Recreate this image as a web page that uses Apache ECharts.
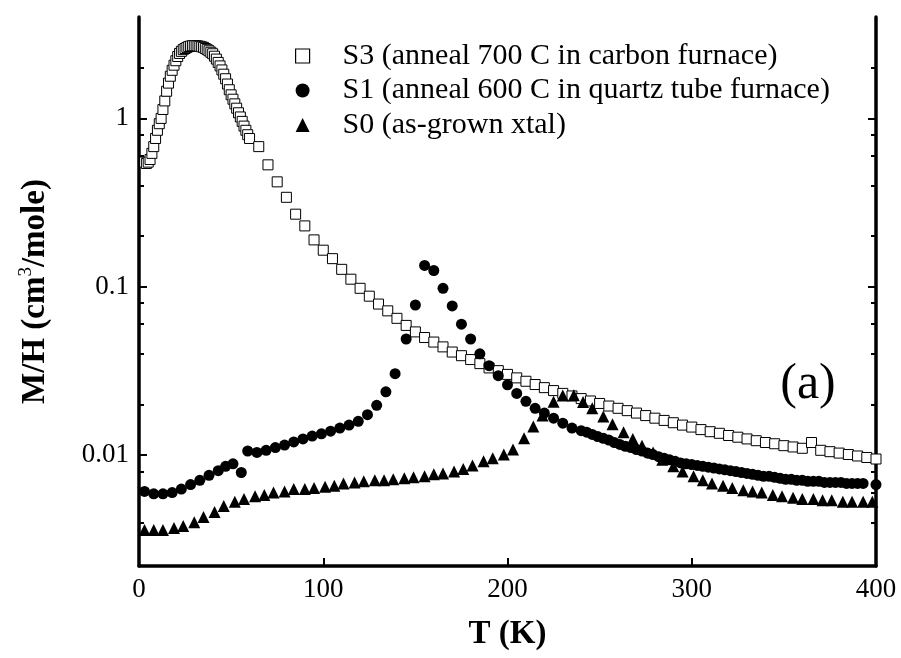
<!DOCTYPE html>
<html>
<head>
<meta charset="utf-8">
<script src="https://cdn.jsdelivr.net/npm/echarts@6/dist/echarts.min.js"></script>
<style>html,body{margin:0;padding:0;background:#fff}#c{width:901px;height:658px}</style>
</head>
<body>
<div id="c"></div>
<script>
// ---- data ----
const s3T = [3,4,5,6,7,8,9,10,11,12,13,14,15,16,17,18,19,20,21,22,23,24,25,26,27,28,29,30,31,32,33,34,35,36,37,38,39,40,41,42,43,44,45,46,47,48,49,50,51,52,53,54,55,56,57,58,59,60,
  65,70,75,80,85,90,95,100,105,110,115,120,125,130,135,140,145,150,155,160,165,170,175,180,185,190,195,200,205,210,215,220,225,230,235,240,245,250,255,260,265,270,275,280,285,290,295,300,305,310,315,320,325,330,335,340,345,350,355,360,365,370,375,380,385,390,395,400];
const s3V = [0.55,0.54,0.55,0.57,0.62,0.68,0.76,0.85,0.93,1.0,1.13,1.27,1.45,1.62,1.78,1.93,2.07,2.2,2.33,2.43,2.5,2.56,2.6,2.64,2.67,2.69,2.7,2.7,2.7,2.69,2.68,2.66,2.64,2.6,2.56,2.52,2.47,2.42,2.34,2.25,2.15,2.05,1.94,1.83,1.72,1.6,1.48,1.38,1.3,1.22,1.15,1.08,1.02,0.96,0.9,0.85,0.8,0.76,
  0.68,0.53,0.42,0.34,0.27,0.23,0.19,0.165,0.147,0.127,0.111,0.098,0.088,0.079,0.072,0.065,0.059,0.054,0.050,0.047,0.044,0.041,0.039,0.037,0.035,0.033,0.0318,0.0302,0.0288,0.0275,0.0263,0.0252,0.0242,0.0233,0.0225,0.0217,0.021,0.0203,0.0196,0.019,0.0184,0.0178,0.0172,0.0166,0.0161,0.0156,0.0151,0.0147,0.0142,0.0138,0.0135,0.0131,0.0128,0.0125,0.0122,0.0119,0.0117,0.0114,0.0112,0.011,0.0119,0.0107,0.0105,0.0103,0.0101,0.0099,0.0097,0.0095];

const s1T = [3,8,13,18,23,28,33,38,43,47,51,55.5,59,64,69,74,79,84,89,94,99,104,109,114,119,124,129,134,139,145,150,155,160,165,170,175,180,185,190,195,200,205,210,215,220,225,230,235,
  240,243,246,249,252,255,258,261,264,267,270,273,276,279,282,285,288,291,294,297,300,303,306,309,312,315,318,321,324,327,330,333,336,339,342,345,348,351,354,357,360,363,366,369,372,375,378,381,384,387,390,393,400];
const s1V = [0.0061,0.0059,0.0059,0.0060,0.0063,0.0067,0.0071,0.0076,0.0081,0.0086,0.0089,0.0079,0.0106,0.0104,0.0107,0.0111,0.0115,0.0120,0.0125,0.0130,0.0134,0.0139,0.0145,0.0151,0.0159,0.0174,0.0198,0.0238,0.0305,0.049,0.078,0.134,0.125,0.098,0.077,0.060,0.049,0.040,0.034,0.0297,0.0262,0.0233,0.0209,0.019,0.0178,0.0166,0.0155,0.0145,
  0.0140,0.0137,0.0133,0.0129,0.0126,0.0123,0.0119,0.0116,0.0113,0.0111,0.0108,0.0106,0.0103,0.0101,0.0098,0.0096,0.0094,0.0092,0.0090,0.0089,0.0088,0.0087,0.0086,0.0085,0.0084,0.0083,0.0082,0.0081,0.0080,0.0079,0.0078,0.0077,0.0076,0.0075,0.0075,0.0074,0.0073,0.0072,0.0072,0.0071,0.0071,0.0070,0.0070,0.0070,0.0069,0.0069,0.0069,0.0069,0.0068,0.0068,0.0068,0.0068,0.0067];

const s0T = [3,8,13,19,24,30,35,41,46,52,57,63,68,73,79,84,90,95,101,106,111,117,122,128,133,138,144,149,155,160,165,171,176,181,187,192,198,203,209,214,219,225,230,236,241,246,252,257,263,268,273,279,284,290,295,301,306,311,317,322,328,333,338,344,349,355,360,366,371,376,382,387,393,398];
const s0V = [0.0036,0.0036,0.0036,0.0037,0.0038,0.0040,0.0043,0.0046,0.0050,0.0053,0.0055,0.0057,0.0058,0.0060,0.0061,0.0063,0.0063,0.0064,0.0065,0.0066,0.0068,0.0069,0.0070,0.0071,0.0071,0.0072,0.0073,0.0074,0.0075,0.0077,0.0078,0.0080,0.0083,0.0087,0.0092,0.0096,0.0101,0.0108,0.0126,0.0148,0.0172,0.0208,0.0226,0.0227,0.0207,0.0190,0.0170,0.0153,0.0137,0.0125,0.0114,0.0104,0.0094,0.0086,0.0080,0.0075,0.0071,0.0068,0.0066,0.0064,0.0062,0.0061,0.0060,0.0058,0.0057,0.0056,0.0055,0.0055,0.0054,0.0054,0.0053,0.0053,0.0053,0.0053];

const seriesNames = ['S3 (anneal 700 C in carbon furnace)','S1 (anneal 600 C in quartz tube furnace)','S0 (as-grown xtal)'];
const xTicks = [0,100,200,300,400];
const yMajor = [0.01,0.1,1];
const yMinor = [0.004,0.006,0.008,0.02,0.04,0.06,0.08,0.2,0.4,0.6,0.8,2];
const yRange = [0.0022,4];

// ---- chart ----
const F = 'Liberation Serif';
const zip = (t,v) => t.map((x,i)=>[x,v[i]]);
const chart = echarts.init(document.getElementById('c'), null, {renderer:'canvas'});
const yBase = (extra) => Object.assign({
  type:'log', min:yRange[0], max:yRange[1], splitLine:{show:false}, axisLine:{show:false},
  axisLabel:{show:false}, axisTick:{show:false}
}, extra);
chart.setOption({
  animation:false,
  backgroundColor:'#fff',
  grid:{left:139, right:25, top:17, bottom:92, containLabel:false},
  xAxis:[{
    type:'value', min:0, max:400, interval:100, position:'bottom',
    axisLine:{show:true, lineStyle:{color:'#000', width:3.5}},
    axisTick:{show:true, inside:true, length:8, lineStyle:{color:'#000', width:2}},
    axisLabel:{color:'#000', fontFamily:F, fontSize:27, margin:10,
      customValues:xTicks},
    splitLine:{show:false},
    name:'T (K)', nameLocation:'middle', nameGap:52,
    nameTextStyle:{color:'#000', fontFamily:F, fontSize:33, fontWeight:'bold'}
  }],
  yAxis:[
    yBase({position:'left',
      axisLine:{show:true, lineStyle:{color:'#000', width:3.5}},
      axisTick:{show:true, inside:true, length:8, lineStyle:{color:'#000', width:2}, customValues:yMajor},
      axisLabel:{show:true, color:'#000', fontFamily:F, fontSize:27, margin:10, customValues:yMajor,
        formatter:(v)=>String(+v.toPrecision(3))},
      name:'{b|M/H (cm}{s|3}{b|/mole)}', nameLocation:'middle', nameGap:86,
      nameTextStyle:{color:'#000', rich:{
        b:{fontFamily:F, fontSize:33, fontWeight:'bold', color:'#000', lineHeight:36},
        s:{fontFamily:F, fontSize:19, color:'#000', lineHeight:36, verticalAlign:'top', padding:[0,0,14,0]}
      }}
    }),
    yBase({position:'left',
      axisTick:{show:true, inside:true, length:5, lineStyle:{color:'#000', width:2}, customValues:yMinor}}),
    yBase({position:'right',
      axisLine:{show:true, lineStyle:{color:'#000', width:3.5}},
      axisTick:{show:true, inside:true, length:8, lineStyle:{color:'#000', width:2}, customValues:yMajor}}),
    yBase({position:'right',
      axisTick:{show:true, inside:true, length:5, lineStyle:{color:'#000', width:2}, customValues:yMinor}})
  ],
  legend:{
    orient:'vertical', left:290, top:36, itemWidth:14, itemHeight:14, itemGap:4.5,
    textStyle:{color:'#000', fontFamily:F, fontSize:30, lineHeight:24, padding:[0,0,0,28]},
    data:[
      {name:seriesNames[0], icon:'rect', itemStyle:{color:'#fff', borderColor:'#000', borderWidth:1.2}},
      {name:seriesNames[1], icon:'circle', itemStyle:{color:'#000', borderWidth:0}},
      {name:seriesNames[2], icon:'triangle', itemStyle:{color:'#000', borderWidth:0}}
    ]
  },
  graphic:[{type:'text', x:808, y:385, style:{text:'(a)', font:'50px "Liberation Serif"', fill:'#000', textAlign:'center', textVerticalAlign:'middle'}}],
  series:[
    {name:seriesNames[0], type:'scatter', yAxisIndex:0, symbol:'rect', symbolSize:10,
      itemStyle:{color:'#fff', borderColor:'#000', borderWidth:1, opacity:1}, data:zip(s3T,s3V)},
    {name:seriesNames[1], type:'scatter', yAxisIndex:0, symbol:'circle', symbolSize:11,
      itemStyle:{color:'#000', opacity:1}, data:zip(s1T,s1V)},
    {name:seriesNames[2], type:'scatter', yAxisIndex:0, symbol:'triangle', symbolSize:12,
      itemStyle:{color:'#000', opacity:1}, data:zip(s0T,s0V)}
  ]
});
</script>
</body>
</html>
